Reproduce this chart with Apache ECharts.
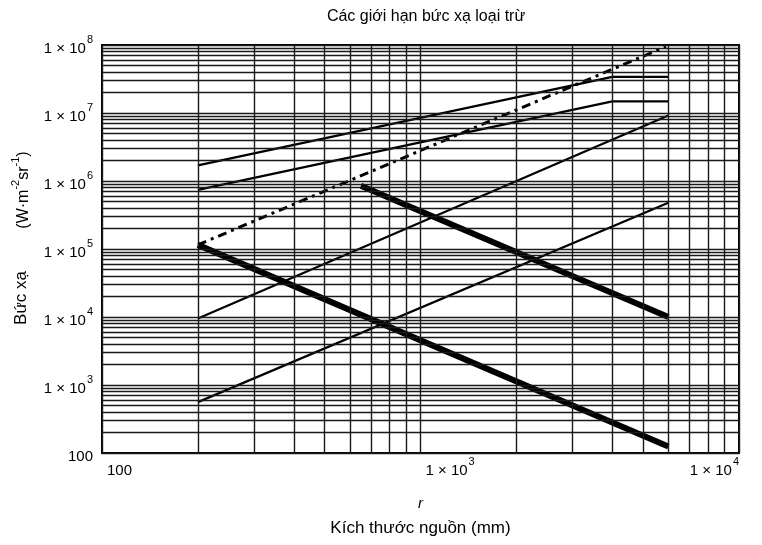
<!DOCTYPE html>
<html>
<head>
<meta charset="utf-8">
<script src="https://cdn.jsdelivr.net/npm/echarts@6/dist/echarts.min.js"></script>
<style>
html,body{margin:0;padding:0;background:#fff;}
#c{width:762px;height:545px;}
</style>
</head>
<body>
<div id="c"></div>
<script>
// Data
const titleText = 'Các giới hạn bức xạ loại trừ';
const yNameMain = 'Bức xạ';
const xMin = 100, xMax = 10000;
const yMin = 100, yMax = 1e8;

const rThinA = [200, 4000, 6000];
const vThinA = [1.7e6, 3.4e7, 3.4e7];

const rThinB = [200, 4000, 6000];
const vThinB = [7.4e5, 1.48e7, 1.48e7];

const rDash = [200, 5900];
const vDash = [1.15e5, 9.5e7];

const rThickLow = [200, 6000];
const vThickLow = [1.15e5, 125];

const rThickUp = [650, 6000];
const vThickUp = [8.5e5, 1.0e4];

const rThinC = [200, 6000];
const vThinC = [9.5e3, 9.2e6];

const rThinD = [200, 6000];
const vThinD = [560, 4.8e5];

// grid lines at 1..9 x each decade
function decadeLines(lo, hi) {
  const out = [];
  for (let d = lo; d < hi; d *= 10) {
    for (let k = 1; k <= 9; k++) out.push(d * k);
  }
  out.push(hi);
  return out;
}
const xGrid = decadeLines(xMin, xMax);
const yGrid = decadeLines(yMin, yMax);

function pairs(xs, ys) { return xs.map((x, i) => [x, ys[i]]); }

function fmt(v) {
  const e = Math.round(Math.log10(v));
  if (e === 2) return '{b|100}';
  return '{b|1 × 10}{e|' + e + '}';
}
const FF = 'Liberation Sans';
const richLab = {
  b: { fontSize: 15, fontFamily: FF, color: '#000', lineHeight: 22, verticalAlign: 'bottom' },
  e: { fontSize: 11, fontFamily: FF, color: '#000', lineHeight: 22, verticalAlign: 'top', padding: [0, 0, 0, 1] }
};

const chart = echarts.init(document.getElementById('c'), null, { renderer: 'canvas' });

const gridLineStyle = { color: '#1a1a1a', width: 1.4, type: 'solid' };

const option = {
  backgroundColor: '#fff',
  animation: false,
  title: {
    text: titleText,
    left: 421, top: 4, textAlign: 'center',
    textStyle: { fontSize: 16, fontWeight: 'normal', fontFamily: FF, color: '#000' }
  },
  grid: { left: 102, right: 23, top: 45, bottom: 92, show: true, borderColor: '#000', borderWidth: 2, backgroundColor: 'transparent' },
  xAxis: {
    type: 'log', logBase: 10, min: xMin, max: xMax, splitNumber: 2,
    axisLine: { show: false }, axisTick: { show: false }, splitLine: { show: false },
    axisLabel: { formatter: fmt, rich: richLab, margin: 3, align: 'left', alignMaxLabel: 'right', padding: [0, 0, 0, 5] },
    name: '{r|r}\n{t|Kích thước nguồn (mm)}',
    nameLocation: 'middle', nameGap: 38,
    nameTextStyle: {
      rich: {
        r: { fontSize: 15, fontStyle: 'italic', fontFamily: FF, color: '#000', lineHeight: 26 },
        t: { fontSize: 17, fontFamily: FF, color: '#000', lineHeight: 22 }
      }
    }
  },
  yAxis: {
    type: 'log', logBase: 10, min: yMin, max: yMax, splitNumber: 6,
    axisLine: { show: false }, axisTick: { show: false }, splitLine: { show: false },
    axisLabel: { formatter: fmt, rich: richLab, margin: 9 }
  },
  graphic: [{
    type: 'text', x: 21, y: 298, rotation: Math.PI / 2,
    style: {
      text: yNameMain, align: 'center', verticalAlign: 'middle',
      font: '17px "Liberation Sans"', fill: '#000'
    }
  }, {
    type: 'text', x: 21, y: 190, rotation: Math.PI / 2,
    style: {
      text: '{t|(W·m}{s|-2}{t|sr}{s|-1}{t|)}',
      align: 'center', verticalAlign: 'middle',
      rich: {
        t: { fontSize: 16, fontFamily: FF, fill: '#000', lineHeight: 22, verticalAlign: 'bottom' },
        s: { fontSize: 11, fontFamily: FF, fill: '#000', lineHeight: 22, verticalAlign: 'top' }
      }
    }
  }],
  series: [
    {
      type: 'line', data: [], silent: true,
      markLine: {
        silent: true, symbol: 'none', label: { show: false }, animation: false,
        lineStyle: gridLineStyle,
        data: xGrid.map(v => ({ xAxis: v })).concat(yGrid.map(v => ({ yAxis: v })))
      }
    },
    { name: 'A', type: 'line', data: pairs(rThinA, vThinA), symbol: 'none', lineStyle: { color: '#000', width: 2.2 } },
    { name: 'B', type: 'line', data: pairs(rThinB, vThinB), symbol: 'none', lineStyle: { color: '#000', width: 2.2 } },
    { name: 'C', type: 'line', data: pairs(rThinC, vThinC), symbol: 'none', lineStyle: { color: '#000', width: 2.2 } },
    { name: 'D', type: 'line', data: pairs(rThinD, vThinD), symbol: 'none', lineStyle: { color: '#000', width: 2.2 } },
    { name: 'Dash', type: 'line', data: pairs(rDash, vDash), symbol: 'none', lineStyle: { color: '#000', width: 3, type: [9, 5, 3, 5] } },
    { name: 'ThickLow', type: 'line', data: pairs(rThickLow, vThickLow), symbol: 'none', lineStyle: { color: '#000', width: 6 } },
    { name: 'ThickUp', type: 'line', data: pairs(rThickUp, vThickUp), symbol: 'none', lineStyle: { color: '#000', width: 6 } }
  ]
};
chart.setOption(option);
</script>
</body>
</html>
